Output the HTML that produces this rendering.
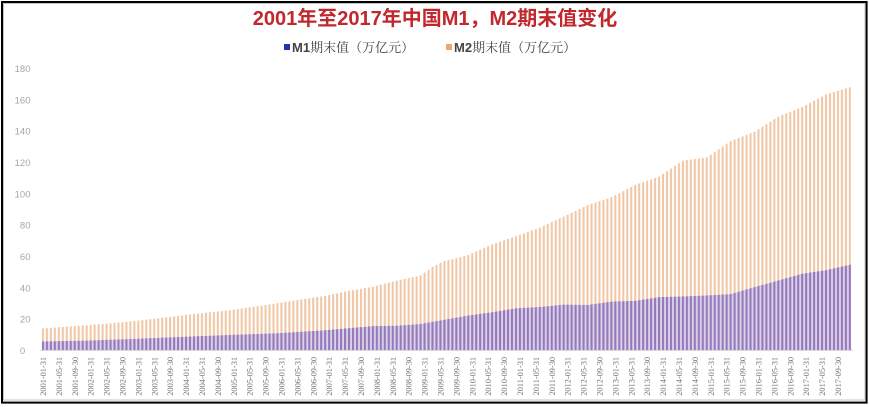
<!DOCTYPE html>
<html>
<head>
<meta charset="utf-8">
<style>
html,body{margin:0;padding:0;background:#fff;}
body{width:870px;height:407px;overflow:hidden;}
svg{display:block;}
.yl{font-family:"Liberation Sans",sans-serif;font-size:9.5px;fill:#a6a6a6;}
.xl{font-family:"Liberation Serif",serif;font-size:8.3px;fill:#707070;}
</style>
</head>
<body>
<svg width="870" height="407" viewBox="0 0 870 407" xmlns="http://www.w3.org/2000/svg">
<defs>
<pattern id="p2" patternUnits="userSpaceOnUse" x="41.9" y="0" width="3.975" height="407">
<rect x="0" y="0" width="2.1" height="407" fill="#f1c8a7"/>
</pattern>
<pattern id="p1" patternUnits="userSpaceOnUse" x="41.9" y="0" width="3.975" height="407">
<rect x="0" y="0" width="3.975" height="407" fill="#ddd2ea"/>
<rect x="0" y="0" width="2.1" height="407" fill="#9479bb"/>
</pattern>
</defs>

<rect x="0" y="0" width="870" height="407" fill="#fff"/>
<rect x="2" y="2" width="864.6" height="400.6" fill="none" stroke="#000" stroke-width="2"/>
<rect x="3.5" y="3.5" width="861.5" height="396.5" fill="none" stroke="#c4c4c4" stroke-width="1"/>

<text x="435" y="25" text-anchor="middle" font-family="'Liberation Sans','Noto Sans CJK SC',sans-serif" font-size="20" font-weight="bold" fill="#c0282d">2001年至2017年中国M1，M2期末值变化</text>

<rect x="284" y="44" width="6" height="6" fill="#2233aa"/>
<text x="292" y="52" font-family="'Liberation Sans','Noto Serif CJK SC',serif" font-size="13" fill="#444"><tspan font-weight="bold">M1</tspan>期末值（万亿元）</text>
<rect x="446" y="44" width="6" height="6" fill="#f2a766"/>
<text x="454" y="52" font-family="'Liberation Sans','Noto Serif CJK SC',serif" font-size="13" fill="#444"><tspan font-weight="bold">M2</tspan>期末值（万亿元）</text>

<text class="yl" x="30.5" y="72" text-anchor="end">180</text>
<text class="yl" x="30.5" y="103.5" text-anchor="end">160</text>
<text class="yl" x="30.5" y="134.5" text-anchor="end">140</text>
<text class="yl" x="30.5" y="166" text-anchor="end">120</text>
<text class="yl" x="30.5" y="197.5" text-anchor="end">100</text>
<text class="yl" x="30.5" y="228.5" text-anchor="end">80</text>
<text class="yl" x="30.5" y="260" text-anchor="end">60</text>
<text class="yl" x="30.5" y="291.5" text-anchor="end">40</text>
<text class="yl" x="30.5" y="322.5" text-anchor="end">20</text>
<text class="yl" x="22.5" y="354" text-anchor="middle">0</text>

<polygon fill="url(#p2)" points="41.9,350 41.9,328.54 43,328.54 62.875,326.97 86.725,325.2 110.575,323.32 134.425,321.02 158.275,318.35 182.125,315.35 205.975,312.65 229.825,310.19 253.675,306.78 277.525,303.19 301.375,299.43 325.225,295.86 349.075,290.81 372.925,286.8 396.775,280.58 420.625,275.55 432.55,266.87 444.475,260.87 456.4,258.29 468.325,255.03 492.175,244.42 516.025,236.29 539.875,227.67 563.725,216.58 587.575,205.08 611.425,197.38 635.275,184.8 659.125,176.65 682.975,160.5 706.825,157.55 730.675,141.1 754.525,131.87 778.375,116.49 802.225,107.15 826.075,94.43 849.925,87.3 851.1,87.3 851.1,350"/>

<polygon fill="url(#p1)" points="41.9,350 41.9,341.54 43,341.54 86.725,340.62 134.425,338.89 182.125,336.82 229.825,334.96 277.525,333.19 325.225,330.26 372.925,326.11 396.775,325.73 420.625,323.96 444.475,319.75 468.325,315.53 492.175,312.31 516.025,308.23 539.875,306.96 563.725,304.6 587.575,304.94 611.425,301.64 635.275,300.87 659.125,297.16 682.975,296.48 706.825,295.46 730.675,294.16 754.525,287.18 778.375,280.5 802.225,273.77 826.075,270.07 849.925,264.8 851.1,264.8 851.1,350"/>

<line x1="40" y1="350.5" x2="853" y2="350.5" stroke="#d9d9d9" stroke-width="1"/>

<g class="xl" text-anchor="end">
<text transform="translate(46,357) rotate(-90)">2001-01-31</text>
<text transform="translate(61.9,357) rotate(-90)">2001-05-31</text>
<text transform="translate(77.8,357) rotate(-90)">2001-09-30</text>
<text transform="translate(93.7,357) rotate(-90)">2002-01-31</text>
<text transform="translate(109.6,357) rotate(-90)">2002-05-31</text>
<text transform="translate(125.5,357) rotate(-90)">2002-09-30</text>
<text transform="translate(141.4,357) rotate(-90)">2003-01-31</text>
<text transform="translate(157.3,357) rotate(-90)">2003-05-31</text>
<text transform="translate(173.2,357) rotate(-90)">2003-09-30</text>
<text transform="translate(189.1,357) rotate(-90)">2004-01-31</text>
<text transform="translate(205,357) rotate(-90)">2004-05-31</text>
<text transform="translate(220.9,357) rotate(-90)">2004-09-30</text>
<text transform="translate(236.8,357) rotate(-90)">2005-01-31</text>
<text transform="translate(252.7,357) rotate(-90)">2005-05-31</text>
<text transform="translate(268.6,357) rotate(-90)">2005-09-30</text>
<text transform="translate(284.5,357) rotate(-90)">2006-01-31</text>
<text transform="translate(300.4,357) rotate(-90)">2006-05-31</text>
<text transform="translate(316.3,357) rotate(-90)">2006-09-30</text>
<text transform="translate(332.2,357) rotate(-90)">2007-01-31</text>
<text transform="translate(348.1,357) rotate(-90)">2007-05-31</text>
<text transform="translate(364,357) rotate(-90)">2007-09-30</text>
<text transform="translate(379.9,357) rotate(-90)">2008-01-31</text>
<text transform="translate(395.8,357) rotate(-90)">2008-05-31</text>
<text transform="translate(411.7,357) rotate(-90)">2008-09-30</text>
<text transform="translate(427.6,357) rotate(-90)">2009-01-31</text>
<text transform="translate(443.5,357) rotate(-90)">2009-05-31</text>
<text transform="translate(459.4,357) rotate(-90)">2009-09-30</text>
<text transform="translate(475.3,357) rotate(-90)">2010-01-31</text>
<text transform="translate(491.2,357) rotate(-90)">2010-05-31</text>
<text transform="translate(507.1,357) rotate(-90)">2010-09-30</text>
<text transform="translate(523,357) rotate(-90)">2011-01-31</text>
<text transform="translate(538.9,357) rotate(-90)">2011-05-31</text>
<text transform="translate(554.8,357) rotate(-90)">2011-09-30</text>
<text transform="translate(570.7,357) rotate(-90)">2012-01-31</text>
<text transform="translate(586.6,357) rotate(-90)">2012-05-31</text>
<text transform="translate(602.5,357) rotate(-90)">2012-09-30</text>
<text transform="translate(618.4,357) rotate(-90)">2013-01-31</text>
<text transform="translate(634.3,357) rotate(-90)">2013-05-31</text>
<text transform="translate(650.2,357) rotate(-90)">2013-09-30</text>
<text transform="translate(666.1,357) rotate(-90)">2014-01-31</text>
<text transform="translate(682,357) rotate(-90)">2014-05-31</text>
<text transform="translate(697.9,357) rotate(-90)">2014-09-30</text>
<text transform="translate(713.8,357) rotate(-90)">2015-01-31</text>
<text transform="translate(729.7,357) rotate(-90)">2015-05-31</text>
<text transform="translate(745.6,357) rotate(-90)">2015-09-30</text>
<text transform="translate(761.5,357) rotate(-90)">2016-01-31</text>
<text transform="translate(777.4,357) rotate(-90)">2016-05-31</text>
<text transform="translate(793.3,357) rotate(-90)">2016-09-30</text>
<text transform="translate(809.2,357) rotate(-90)">2017-01-31</text>
<text transform="translate(825.1,357) rotate(-90)">2017-05-31</text>
<text transform="translate(841,357) rotate(-90)">2017-09-30</text>
</g>
</svg>
</body>
</html>
